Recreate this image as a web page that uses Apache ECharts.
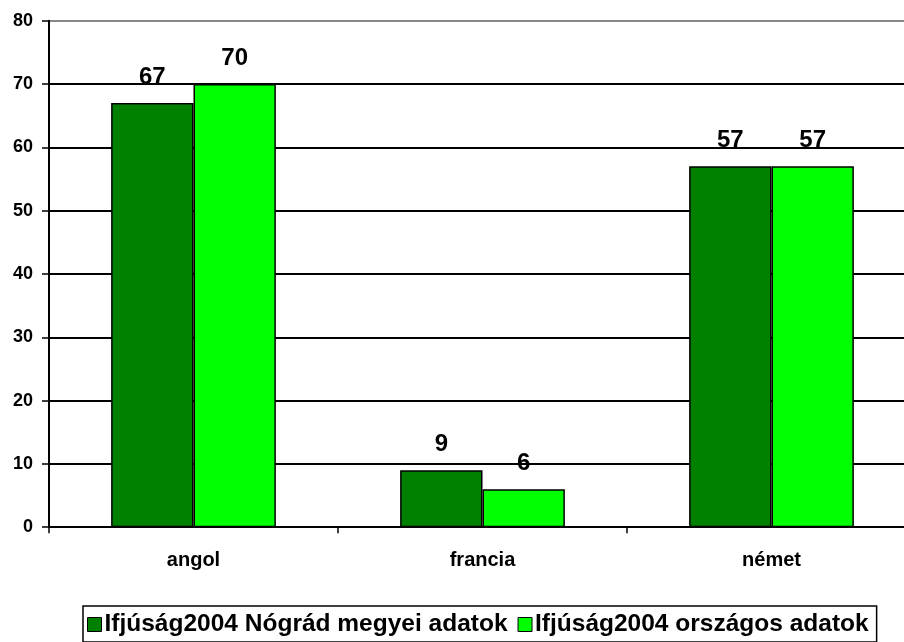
<!DOCTYPE html>
<html><head><meta charset="utf-8">
<script src="https://cdn.jsdelivr.net/npm/echarts@6/dist/echarts.min.js"></script>
<style>html,body{margin:0;padding:0;background:#fff}#c{width:904px;height:642px}</style>
</head><body><div id="c"></div>
<script>
const categories = ['angol', 'francia', 'német'];
const seriesNames = ['Ifjúság2004 Nógrád megyei adatok', 'Ifjúság2004 országos adatok'];
const nogradValues = [67, 9, 57];
const orszagosValues = [70, 6, 57];
const colors = ['#008000', '#00FF00'];

const chart = echarts.init(document.getElementById('c'), null, {renderer: 'canvas'});
const font = 'Arial, "Liberation Sans", sans-serif';
function bar(name, data, color) {
  return {
    name, type: 'bar', data,
    barGap: '0%', barCategoryGap: '43%',
    itemStyle: {color, borderColor: '#000', borderWidth: 1.5},
    label: {show: true, position: 'top', distance: 14, color: '#000', fontFamily: font, fontWeight: 'bold', fontSize: 24},
    emphasis: {disabled: true}
  };
}
chart.setOption({
  animation: false,
  backgroundColor: '#fff',
  grid: {left: 49, top: 20.7, width: 867, height: 506.5, containLabel: false, outerBoundsMode: 'none'},
  legend: {
    left: 83, top: 606,
    itemWidth: 14, itemHeight: 14, itemGap: 10,
    padding: [6, 8, 5, 4],
    borderColor: '#000', borderWidth: 1.5,
    icon: 'rect',
    itemStyle: {borderColor: '#000', borderWidth: 1},
    textStyle: {fontFamily: font, fontWeight: 'bold', fontSize: 24.5, color: '#000', padding: [0, 0, 0, -2]},
    data: seriesNames
  },
  xAxis: {
    type: 'category', data: categories,
    axisLine: {lineStyle: {color: '#000', width: 2}},
    axisTick: {show: true, length: 6, lineStyle: {color: '#000', width: 1.5}},
    axisLabel: {color: '#000', fontFamily: font, fontWeight: 'bold', fontSize: 20, margin: 23}
  },
  yAxis: {
    type: 'value', min: 0, max: 80, interval: 10,
    axisLine: {show: true, lineStyle: {color: '#000', width: 2}},
    axisTick: {show: true, length: 7, lineStyle: {color: '#000', width: 1.5}},
    axisLabel: {color: '#000', fontFamily: font, fontWeight: 'bold', fontSize: 18, margin: 16},
    splitLine: {show: true, lineStyle: {color: ['#000','#000','#000','#000','#000','#000','#000','#000','#888'], width: 2}}
  },
  series: [bar(seriesNames[0], nogradValues, colors[0]), bar(seriesNames[1], orszagosValues, colors[1])]
});
</script></body></html>
